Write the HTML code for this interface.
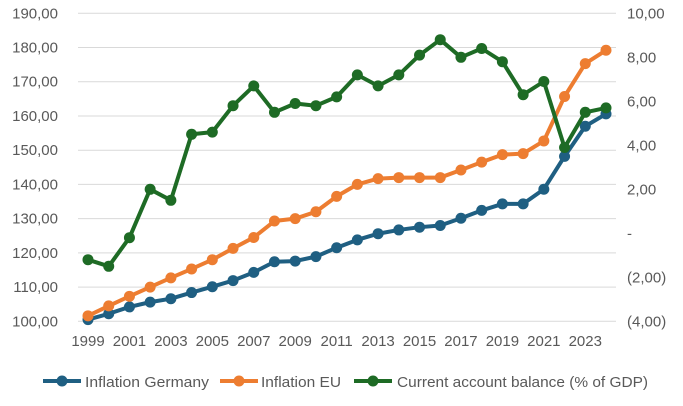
<!DOCTYPE html>
<html><head><meta charset="utf-8"><style>
body{margin:0;background:#fff;font-family:"Liberation Sans",sans-serif}
svg text{font-family:"Liberation Sans",sans-serif;fill:#595959;font-size:15px}
</style></head><body>
<svg id="c" width="683" height="401"></svg>
<script>
const years=[1999,2000,2001,2002,2003,2004,2005,2006,2007,2008,2009,2010,2011,2012,2013,2014,2015,2016,2017,2018,2019,2020,2021,2022,2023,2024];
const germany=[100.5,102.2,104.2,105.6,106.6,108.4,110.1,111.9,114.3,117.4,117.6,118.9,121.5,123.8,125.6,126.7,127.5,128.0,130.1,132.4,134.3,134.3,138.6,148.2,157.0,160.6];
const eu=[101.6,104.5,107.3,110.0,112.7,115.3,118.0,121.3,124.5,129.3,130.0,132.0,136.5,140.0,141.7,142.0,142.0,142.0,144.2,146.5,148.7,149.0,152.7,165.7,175.3,179.2];
const cab=[-1.2,-1.5,-0.2,2.0,1.5,4.5,4.6,5.8,6.7,5.5,5.9,5.8,6.2,7.2,6.7,7.2,8.1,8.8,8.0,8.4,7.8,6.3,6.9,3.9,5.5,5.7];
const leftTicks=[100,110,120,130,140,150,160,170,180,190];
const rightTicks=[-4,-2,0,2,4,6,8,10];
const svg=document.getElementById('c');const NS='http://www.w3.org/2000/svg';
const plotTop=13.3,plotBot=321.3;
const yL=v=>plotBot-(v-100)/90*(plotBot-plotTop);
const yR=v=>plotBot-(v+4)/14*(plotBot-plotTop);
const x=i=>88+i*20.72;
function mk(t,a){const e=document.createElementNS(NS,t);for(const k in a)e.setAttribute(k,a[k]);svg.appendChild(e);return e;}
leftTicks.forEach(v=>{
 const g=mk('line',{x1:78,x2:616,y1:yL(v),y2:yL(v),stroke:'#d9d9d9','stroke-width':1});
 
 
 const t=mk('text',{x:58,y:yL(v)+5,'text-anchor':'end'});t.textContent=v.toFixed(2).replace('.',',');
 
 
});
const fmt=v=>v===0?'-':(v<0?'('+Math.abs(v).toFixed(2).replace('.',',')+')':v.toFixed(2).replace('.',','));
rightTicks.forEach(v=>{
 const t=mk('text',{x:627,y:yR(v)+5});t.textContent=fmt(v);
 
 
});
years.forEach((yr,i)=>{if(i%2===0){const t=mk('text',{x:x(i),y:346,'text-anchor':'middle'});t.textContent=yr;
 
 }});
function series(vals,f,col,name){
 const p=mk('polyline',{points:vals.map((v,i)=>x(i)+','+f(v)).join(' '),fill:'none',stroke:col,'stroke-width':4,'stroke-linejoin':'round'});
 
 
 vals.forEach((v,i)=>{const c=mk('circle',{cx:x(i),cy:f(v),r:5.5,fill:col});
 
 });
}
series(germany,yL,'#1f5f82','germany');
series(eu,yL,'#ed7d31','eu');
series(cab,yR,'#1e6b25','current-account');
const leg=[['Inflation Germany','#1f5f82',43,85,124],['Inflation EU','#ed7d31',220,261,80],['Current account balance (% of GDP)','#1e6b25',354,397,251]];
leg.forEach(l=>{
 const ln=mk('line',{x1:l[2],x2:l[2]+38,y1:381,y2:381,stroke:l[1],'stroke-width':4});
 
 
 const c=mk('circle',{cx:l[2]+19,cy:381,r:5.5,fill:l[1]});
 
 
 const t=mk('text',{x:l[3],y:387,textLength:l[4],lengthAdjust:'spacingAndGlyphs'});t.textContent=l[0];
 
 
});
</script>
</body></html>
